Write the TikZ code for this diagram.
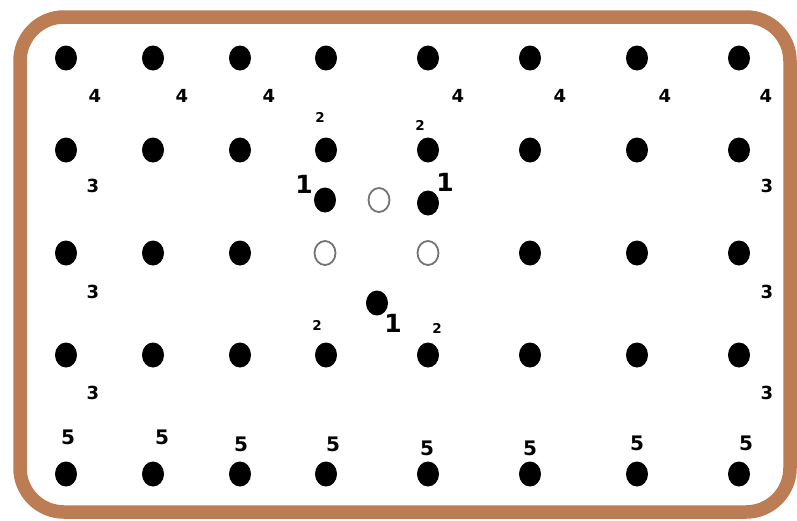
\documentclass[tikz,border=0pt]{standalone}
\usepackage{fontspec}
\setmainfont{DejaVu Sans}
\begin{document}
\begin{tikzpicture}[x=1pt,y=-1pt,
  open/.style={draw=black!55,line width=1.8pt},
  lab/.style={inner sep=0pt,font=\bfseries,scale=1.8},
  labs/.style={inner sep=0pt,font=\bfseries,scale=1.35},
  labone/.style={inner sep=0pt,font=\bfseries,scale=2.5},
  labfive/.style={inner sep=0pt,font=\bfseries,scale=2.0}]
\definecolor{frame}{RGB}{188,124,84}
\useasboundingbox (0,0) rectangle (797,520);
\fill[white] (0,0) rectangle (797,520);
\draw[frame,line width=13.5pt,rounded corners=44pt] (20,17) rectangle (790,512);
% grid of dots
\foreach \x [count=\i] in {66,153,240,326,428,530,637,739}{
  \foreach \y [count=\j] in {58,150,253,355,474}{
    \ifnum\j=3 \ifnum\i=4 \else\ifnum\i=5 \else
      \fill (\x,\y) ellipse [x radius=11, y radius=12.5];
    \fi\fi
    \else
      \fill (\x,\y) ellipse [x radius=11, y radius=12.5];
    \fi
  }
}
% extra dots
\fill (325,200) ellipse [x radius=11, y radius=12.5];
\fill (428,203) ellipse [x radius=11, y radius=12.5];
\fill (377,303) ellipse [x radius=11, y radius=12.5];
% open circles
\draw[open] (379,200) ellipse [x radius=10.5, y radius=12];
\draw[open] (325,253) ellipse [x radius=10.5, y radius=12];
\draw[open] (428,253) ellipse [x radius=10.5, y radius=12];
% labels 4
\foreach \x in {95,182,269,458,560,665,766}{\node[lab] at (\x,96) {4};}
% labels 3
\foreach \y in {186,292,393}{
  \node[lab] at (93,\y) {3};
  \node[lab] at (767,\y) {3};
}
% labels 2
\node[labs] at (320,117) {2};
\node[labs] at (420,125) {2};
\node[labs] at (317,325) {2};
\node[labs] at (437,328) {2};
% labels 1
\node[labone] at (304,184) {1};
\node[labone] at (445,182) {1};
\node[labone] at (393,323) {1};
% labels 5
\foreach \x/\y in {68/437,162/437,241/444,333/444,427/448,530/448,637/443,746/443}{
  \node[labfive] at (\x,\y) {5};
}
\end{tikzpicture}
\end{document}
